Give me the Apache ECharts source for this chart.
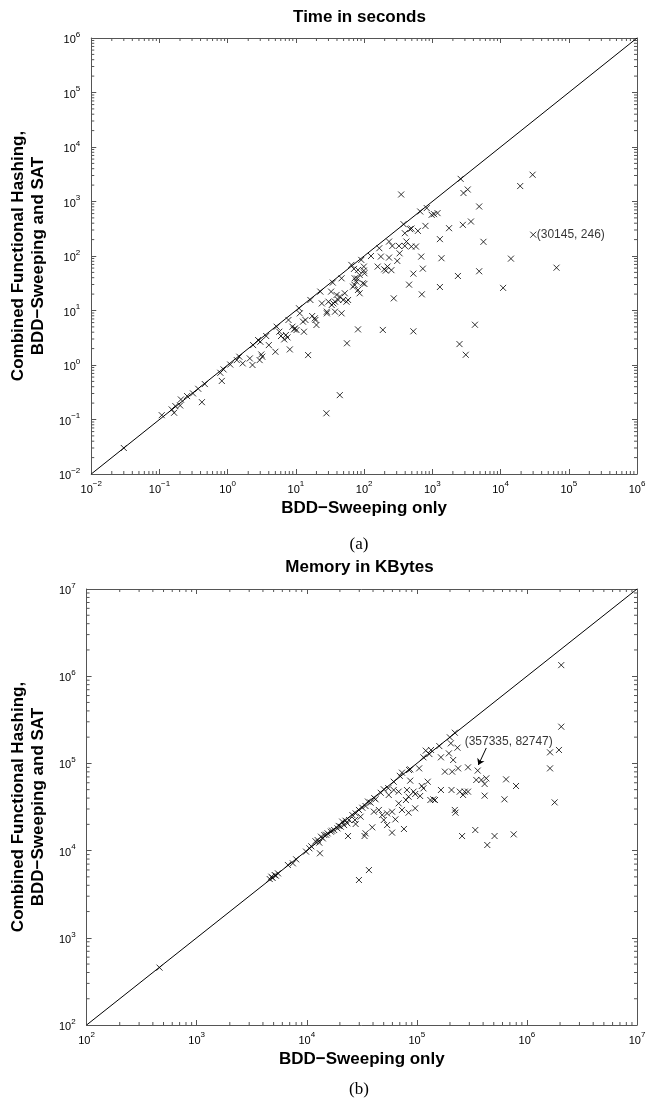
<!DOCTYPE html>
<html>
<head>
<meta charset="utf-8">
<script src="https://cdn.jsdelivr.net/npm/echarts@6/dist/echarts.min.js"></script>
<style>
  html, body { margin: 0; padding: 0; background: #fff; }
  #chart { width: 650px; height: 1104px; }
</style>
</head>
<body>
<div id="chart"></div>
<script>
// axis ranges (powers of ten)
const timeRange = [1e-2, 1e6];
const memRange = [1e2, 1e7];

const timeTitle = 'Time in seconds';
const memTitle = 'Memory in KBytes';
const xName = 'BDD\u2212Sweeping only';
const yName = 'Combined Functional Hashing,\nBDD\u2212Sweeping and SAT';
const captions = ['(a)', '(b)'];

// [BDD-sweeping only, combined] per circuit
const timeData = [
  [0.03, 0.03], [0.108, 0.12], [0.164, 0.133], [0.151, 0.153], [0.171, 0.176], [0.201, 0.181],
  [0.206, 0.233], [0.254, 0.269], [0.31, 0.301], [0.37, 0.366], [0.462, 0.447], [0.419, 0.208],
  [0.82, 0.51], [28, 0.13], [44, 0.28],
  [0.78, 0.72], [0.87, 0.83], [1.09, 1.02], [1.36, 1.23], [1.48, 1.42], [1.66, 1.07], [2.11, 1.32],
  [2.31, 1.0], [2.94, 1.23], [3.11, 1.56], [3.21, 1.42], [2.36, 2.32], [2.79, 2.87], [3.01, 2.67],
  [3.67, 3.4], [4.01, 2.32], [5.0, 1.75], [5.22, 5.04], [5.71, 4.08], [6.04, 3.4], [6.74, 2.95],
  [7.13, 3.55], [7.53, 3.21], [7.78, 6.7], [8.14, 1.93], [8.89, 5.04], [9.4, 4.5], [9.7, 4.7],
  [10.2, 4.38], [11.1, 11], [11.4, 8.87], [12.7, 6.24], [13.1, 4.08], [13.8, 6.7], [15.1, 1.52],
  [16.3, 15.6], [17.3, 7.92], [19.3, 6.7], [20, 5.42], [18.9, 7.18], [22.8, 22.2], [24, 13.5],
  [28.4, 8.87], [32.8, 22.2], [34.7, 32.5], [35.4, 13.5], [37.4, 14.5], [39.5, 19.3], [41.8, 15.6],
  [44.2, 18], [46.7, 39], [46.7, 8.87], [49.3, 15.6], [52.1, 20.7], [55.1, 14.5], [58.2, 15.6],
  [65, 68.6], [68.7, 27.4], [72.6, 39], [76.9, 33.9], [81.3, 55.5], [81.3, 23.8], [85.9, 20.7],
  [90.8, 84.8], [95.9, 31.6], [99, 63.9], [101, 48.2], [81.3, 4.5], [56, 2.5], [126, 100],
  [167, 139], [176, 97.6], [158, 63.9], [188, 4.4],
  [71, 58], [99, 54], [86, 45], [79, 38.5], [101, 30.7], [72.6, 29.4], [197, 57], [208, 54],
  [251, 55], [220, 64], [232, 93.6], [232, 184], [259, 153], [324, 153], [331, 112], [306, 81.3],
  [395, 153], [417, 184], [492, 149], [575, 149], [272, 16.7], [30, 14.5], [33.5, 12.6],
  [28.4, 9.5], [37.4, 9.5],
  [2600, 2600], [29500, 3100], [19400, 1920], [349, 1345], [2860, 1430], [3300, 1660], [4860, 810],
  [664, 655], [828, 757], [977, 570], [1059, 586], [1191, 612], [378, 384], [471, 311], [493, 319],
  [395, 262], [614, 289], [792, 357], [1758, 324], [2800, 373], [3680, 429], [1291, 204],
  [5610, 182], [14200, 89.5], [66100, 61], [4860, 52.5], [2370, 43], [10900, 26], [1291, 27],
  [1361, 91], [687, 97.5], [725, 58.6], [527, 47.4], [456, 29.8], [701, 19.8], [4210, 5.48],
  [2500, 2.42], [3090, 1.54], [527, 4.15]
];
const timeMarked = [30145, 246];

const memData = [
  [460, 455],
  [4610, 4720], [4770, 5020], [5110, 5250], [5480, 5480], [4900, 4850], [5250, 5150], [6740, 6840],
  [7480, 7140], [8010, 7940], [9860, 9730], [10570, 10620], [12560, 13210], [13000, 12330],
  [13180, 9310], [13460, 14450], [14420, 15100], [15450, 15780], [16560, 16480], [17740, 17220],
  [19010, 17990], [20370, 18790], [21830, 19630], [23390, 20560], [24210, 22440], [23710, 14690],
  [27420, 22440], [27800, 20180], [27800, 26730], [29790, 29240], [30830, 24490], [33500, 14690],
  [34200, 15780], [34200, 32430], [38000, 35480], [39360, 18490], [40740, 27930], [42170, 38730],
  [45190, 29240], [48420, 25590], [50120, 22440], [50120, 50470], [53700, 26730], [53700, 19630],
  [55590, 43450], [59570, 27930], [59570, 16070], [61660, 61660], [61660, 49550], [63830, 22800],
  [68390, 47430], [68390, 34830], [73280, 78300], [73280, 29240], [76380, 17700], [79620, 38020],
  [81280, 49550], [84140, 41500], [84140, 27230], [87100, 85500], [87100, 63400], [93330, 47430],
  [96610, 44570], [96610, 30550], [104960, 87700], [107150, 42270], [110900, 55080],
  [114800, 117400], [114800, 51760], [120500, 140000], [125600, 61660], [132700, 38020],
  [134600, 142600], [141300, 38730], [146200, 38020], [165600, 117400], [165600, 49550],
  [179900, 80400], [195400, 130300], [199500, 199100], [203700, 169800], [206500, 49550],
  [209400, 80400], [213800, 109400], [221300, 224900], [221300, 29240], [224400, 27230],
  [233900, 151400], [237100, 87700], [245500, 47430], [257600, 14690], [263000, 43450],
  [272300, 47430], [291700, 90100], [291700, 47430], [339600, 17220], [346700, 64570],
  [385500, 64570], [413000, 58070], [413000, 42660], [427600, 67450], [436500, 11590],
  [508200, 14690], [625200, 38730], [647100, 65600], [758600, 15350], [796200, 55080],
  [1622000, 133900], [1622000, 87700], [1786000, 35730], [1954000, 142600], [2051000, 263600],
  [2050000, 1340000], [36700, 5980], [29790, 4600],
  [11000, 11200], [12000, 12800], [14000, 13800], [15000, 15200], [17000, 16900], [19500, 19200],
  [21000, 21500], [22500, 22000], [26000, 25500], [32000, 31000], [36000, 36500], [41000, 40000],
  [47000, 46000], [55000, 52000], [70000, 72000], [85000, 84000], [130000, 128000], [160000, 158000]
];
const memMarked = [357335, 82747];
// arrow from the annotation text down to the marked point
const memArrow = [[427500, 150300], [362000, 95900]];

const FRAME = '#555';
const FONT = 'Liberation Sans';
const CROSS = 'path://M0,0L10,10M10,0L0,10';

function supLabel(v) {
  const e = Math.round(Math.log10(v));
  return '{b|10}{s|' + (e < 0 ? '\u2212' + (-e) : e) + '}';
}

const labelRich = {
  b: { fontSize: 11, fontFamily: FONT, color: '#000', verticalAlign: 'bottom' },
  s: { fontSize: 8, fontFamily: FONT, color: '#000', verticalAlign: 'top', padding: [0, 0, 7, 0] }
};

function logAxis(gridIndex, range, position, margin, name, nameGap) {
  return {
    type: 'log',
    logBase: 10,
    gridIndex,
    position,
    min: range[0],
    max: range[1],
    interval: 1,
    axisLine: { show: true, lineStyle: { color: FRAME, width: 1 } },
    axisTick: { show: true, inside: true, length: 5, lineStyle: { color: FRAME } },
    splitLine: { show: false },
    axisLabel: margin == null ? { show: false } :
      { show: true, margin, formatter: supLabel, rich: labelRich },
    name: name || '',
    nameLocation: 'middle',
    nameGap: nameGap || 0,
    nameTextStyle: { fontFamily: FONT, fontSize: 17, fontWeight: 'bold', color: '#000', lineHeight: 20 }
  };
}

function minorTicks(range) {
  const out = [];
  const lo = Math.round(Math.log10(range[0])), hi = Math.round(Math.log10(range[1]));
  for (let e = lo; e < hi; e++) {
    for (let k = 2; k <= 9; k++) out.push(k * Math.pow(10, e));
  }
  return out;
}

// small inward minor ticks on all four sides
function tickSeries(idx, xr, yr) {
  const data = minorTicks(xr).map(v => [v, 1]).concat(minorTicks(yr).map(v => [v, 2]));
  return {
    type: 'custom',
    xAxisIndex: idx,
    yAxisIndex: idx,
    silent: true,
    data,
    renderItem(params, api) {
      const v = api.value(0);
      let segs;
      if (api.value(1) === 1) {
        const b = api.coord([v, yr[0]]), t = api.coord([v, yr[1]]);
        segs = [[b[0], b[1], b[0], b[1] - 3], [t[0], t[1], t[0], t[1] + 3]];
      } else {
        const l = api.coord([xr[0], v]), r = api.coord([xr[1], v]);
        segs = [[l[0], l[1], l[0] + 3, l[1]], [r[0], r[1], r[0] - 3, r[1]]];
      }
      return {
        type: 'group',
        children: segs.map(s => ({
          type: 'line',
          shape: { x1: s[0], y1: s[1], x2: s[2], y2: s[3] },
          style: { stroke: FRAME, lineWidth: 1 }
        }))
      };
    }
  };
}

function diagSeries(idx, range) {
  return {
    type: 'line',
    xAxisIndex: idx,
    yAxisIndex: idx,
    data: [[range[0], range[0]], [range[1], range[1]]],
    showSymbol: false,
    silent: true,
    lineStyle: { color: '#000', width: 1 },
    z: 2
  };
}

function crossSeries(idx, data, extra) {
  return Object.assign({
    type: 'scatter',
    xAxisIndex: idx,
    yAxisIndex: idx,
    data,
    symbol: CROSS,
    symbolSize: 6,
    silent: true,
    itemStyle: { color: 'rgba(0,0,0,0)', borderColor: '#000', borderWidth: 1 },
    z: 3
  }, extra || {});
}

const pairText = p => '(' + p[0] + ', ' + p[1] + ')';

const chart = echarts.init(document.getElementById('chart'));
chart.setOption({
  backgroundColor: '#fff',
  animation: false,
  grid: [
    { left: 82, top: 38, width: 555, height: 436 },
    { left: 82, top: 589, width: 555, height: 436 }
  ],
  xAxis: [
    logAxis(0, timeRange, 'bottom', 6, xName, 24),
    logAxis(0, timeRange, 'top'),
    logAxis(1, memRange, 'bottom', 6, xName, 24),
    logAxis(1, memRange, 'top')
  ],
  yAxis: [
    logAxis(0, timeRange, 'left', 11, yName, 26),
    logAxis(0, timeRange, 'right'),
    logAxis(1, memRange, 'left', 11, yName, 26),
    logAxis(1, memRange, 'right')
  ],
  graphic: [
    { type: 'text', x: 359.5, y: 17, style: { text: timeTitle, textAlign: 'center', textVerticalAlign: 'middle', font: 'bold 17px "Liberation Sans"', fill: '#000' } },
    { type: 'text', x: 359.5, y: 567, style: { text: memTitle, textAlign: 'center', textVerticalAlign: 'middle', font: 'bold 17px "Liberation Sans"', fill: '#000' } },
    { type: 'text', x: 359, y: 545, style: { text: captions[0], textAlign: 'center', textVerticalAlign: 'middle', font: '17px "Liberation Serif"', fill: '#000' } },
    { type: 'text', x: 359, y: 1090, style: { text: captions[1], textAlign: 'center', textVerticalAlign: 'middle', font: '17px "Liberation Serif"', fill: '#000' } }
  ],
  series: [
    tickSeries(0, timeRange, timeRange),
    tickSeries(2, memRange, memRange),
    diagSeries(0, timeRange),
    diagSeries(2, memRange),
    crossSeries(0, timeData),
    crossSeries(2, memData),
    crossSeries(0, [timeMarked], {
      label: { show: true, position: 'right', distance: 0, formatter: () => pairText(timeMarked),
        fontFamily: FONT, fontSize: 12, color: '#000' }
    }),
    crossSeries(2, [memMarked], {
      label: { show: true, position: 'inside', offset: [31, -29], formatter: () => pairText(memMarked),
        fontFamily: FONT, fontSize: 12, color: '#000' },
      markLine: {
        silent: true,
        symbol: ['none', 'arrow'],
        symbolSize: 6,
        label: { show: false },
        lineStyle: { color: '#000', width: 1, type: 'solid' },
        data: [[{ coord: memArrow[0] }, { coord: memArrow[1] }]]
      }
    })
  ]
});
</script>
</body>
</html>
